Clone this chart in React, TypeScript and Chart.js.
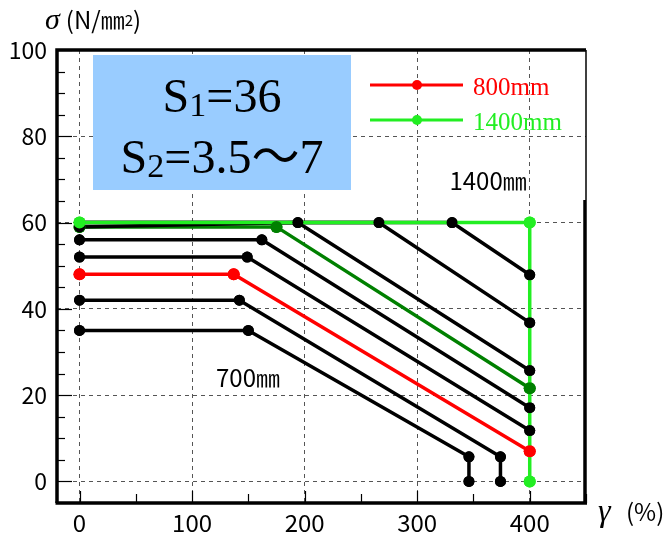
import React, { useEffect, useRef } from "react";
import { Chart, registerables } from "chart.js";
Chart.register(...registerables);

// axis ticks
const xTicks = [0, 100, 200, 300, 400];
const yTicks = [0, 20, 40, 60, 80, 100];

// series (γ %, σ N/mm2)
const g1400X = [0, 400, 400];
const g1400Y = [60, 60, 0];
const r800X = [0, 137, 400];
const r800Y = [48, 48, 7];
const dgX = [0, 175, 400];
const dgY = [59, 59, 21.6];
const k1X = [0, 331, 400];
const k1Y = [60, 60, 47.9];
const k2X = [0, 266, 400];
const k2Y = [60, 60, 36.8];
const k3X = [0, 194, 400];
const k3Y = [59, 60, 25.7];
const k4X = [0, 162, 400];
const k4Y = [56, 56, 17.1];
const k5X = [0, 149, 400];
const k5Y = [52, 52, 11.8];
const k6X = [0, 142, 374, 374];
const k6Y = [42, 42, 5.7, 0];
const k7X = [0, 150, 346, 346];
const k7Y = [35, 35, 5.7, 0];

const RED = "#ff0000";
const LGREEN = "#22ee22";
const DGREEN = "#008000";
const BLACK = "#000000";
const JP = "'Noto Sans CJK JP', 'Liberation Sans', sans-serif";
const SERIF = "'Liberation Serif', 'Times New Roman', 'Noto Sans CJK JP', serif";

function drawSub(ctx: CanvasRenderingContext2D, a: string, sub: string, b: string, cx: number, base: number) {
  ctx.font = `48px ${SERIF}`;
  const wa = ctx.measureText(a).width;
  const wb = ctx.measureText(b).width;
  ctx.font = `34px ${SERIF}`;
  const ws = ctx.measureText(sub).width;
  let x = cx - (wa + ws + wb) / 2;
  ctx.textAlign = "left";
  ctx.textBaseline = "alphabetic";
  ctx.fillStyle = "#000";
  ctx.font = `48px ${SERIF}`;
  ctx.fillText(a, x, base);
  x += wa;
  ctx.font = `34px ${SERIF}`;
  ctx.fillText(sub, x, base + 4);
  x += ws;
  ctx.font = `48px ${SERIF}`;
  ctx.fillText(b, x, base);
}

const decor = {
  id: "decor",
  beforeDatasetsDraw(chart: any) {
    const { ctx, chartArea: a } = chart;
    ctx.save();
    ctx.fillStyle = "#99ccff";
    const bx = a.left + 36, by = a.top + 5, bw = 258, bh = 135;
    ctx.fillRect(bx, by, bw, bh);
    const cx = bx + bw / 2;
    drawSub(ctx, "S", "1", "=36", cx, by + 57);
    drawSub(ctx, "S", "2", "=3.5～7", cx, by + 118);
    ctx.restore();
  },
  afterDatasetsDraw(chart: any) {
    const { ctx, chartArea: a, scales } = chart;
    const xs = scales.x, ys = scales.y;
    // redraw points on top of lines
    const n = chart.data.datasets.length;
    for (let i = n - 1; i >= 0; i--) {
      const meta = chart.getDatasetMeta(i);
      meta.data.forEach((p: any) => p.draw(ctx, a));
    }
    ctx.save();
    // inward ticks
    ctx.strokeStyle = "#000";
    ctx.lineWidth = 1.2;
    ctx.setLineDash([]);
    for (let v = 0; v <= 100; v += 5) {
      const py = Math.round(ys.getPixelForValue(v)) + 0.5;
      const len = v % 20 === 0 ? 15 : 8;
      ctx.beginPath();
      ctx.moveTo(a.left, py);
      ctx.lineTo(a.left + len, py);
      ctx.stroke();
    }
    for (let v = 0; v <= 450; v += 50) {
      const px = Math.round(xs.getPixelForValue(v)) + 0.5;
      const len = v % 100 === 0 ? 12 : 9;
      ctx.beginPath();
      ctx.moveTo(px, a.bottom);
      ctx.lineTo(px, a.bottom - len);
      ctx.stroke();
    }
    // frame
    ctx.lineWidth = 3.5;
    ctx.beginPath();
    ctx.moveTo(a.left, a.bottom);
    ctx.lineTo(a.left, a.top);
    ctx.lineTo(a.right, a.top);
    ctx.stroke();
    ctx.beginPath();
    ctx.moveTo(a.left - 1.5, a.bottom);
    ctx.lineTo(a.right + 1, a.bottom);
    ctx.stroke();
    ctx.lineWidth = 1.5;
    ctx.beginPath();
    ctx.moveTo(a.right, a.top);
    ctx.lineTo(a.right, 200);
    ctx.stroke();
    ctx.lineWidth = 3.5;
    ctx.beginPath();
    ctx.moveTo(a.right - 1, 200);
    ctx.lineTo(a.right - 1, a.bottom);
    ctx.stroke();

    // annotations
    ctx.fillStyle = "#000";
    ctx.font = `24px ${JP}`;
    ctx.textAlign = "center";
    ctx.textBaseline = "middle";
    ctx.fillText("1400㎜", xs.getPixelForValue(363), ys.getPixelForValue(69.6));
    ctx.fillText("700㎜", xs.getPixelForValue(149.7), ys.getPixelForValue(24));

    // legend
    const legend = [
      { label: "800mm", color: RED, y: 85, ty: 95 },
      { label: "1400mm", color: LGREEN, y: 120, ty: 130 },
    ];
    legend.forEach((l) => {
      ctx.strokeStyle = l.color;
      ctx.lineWidth = 3;
      ctx.beginPath();
      ctx.moveTo(370, l.y);
      ctx.lineTo(463, l.y);
      ctx.stroke();
      ctx.fillStyle = l.color;
      ctx.beginPath();
      ctx.arc(417, l.y, 5, 0, Math.PI * 2);
      ctx.fill();
      ctx.font = `25px ${SERIF}`;
      ctx.textAlign = "left";
      ctx.textBaseline = "alphabetic";
      ctx.fillText(l.label, 473, l.ty);
    });
    ctx.restore();
  },
  afterDraw(chart: any) {
    const { ctx } = chart;
    ctx.save();
    ctx.fillStyle = "#000";
    ctx.textAlign = "left";
    ctx.textBaseline = "alphabetic";
    ctx.font = `italic 30px ${SERIF}`;
    let x = 45;
    ctx.fillText("σ", x, 29);
    x += ctx.measureText("σ").width + 6;
    ctx.font = `24px ${JP}`;
    const t1 = "(N/㎜";
    ctx.fillText(t1, x, 29);
    x += ctx.measureText(t1).width;
    ctx.font = `15px ${JP}`;
    ctx.fillText("2", x, 26);
    x += ctx.measureText("2").width;
    ctx.font = `24px ${JP}`;
    ctx.fillText(")", x, 29);

    ctx.font = `italic 32px ${SERIF}`;
    ctx.fillText("γ", 598, 521);
    ctx.font = `24px ${JP}`;
    ctx.fillText("(%)", 626, 521);
    ctx.restore();
  },
};

function mk(label: string, xs: number[], ys: number[], color: string, r = 5.5) {
  return {
    label,
    data: xs.map((x, i) => ({ x, y: ys[i] })),
    borderColor: color,
    backgroundColor: color,
    pointBackgroundColor: color,
    pointBorderColor: color,
    pointBorderWidth: 0,
    pointRadius: r,
    borderWidth: 3.5,
    showLine: true,
    fill: false,
    tension: 0,
  };
}

export default function App() {
  const ref = useRef<HTMLCanvasElement>(null);
  useEffect(() => {
    const canvas = ref.current!;
    const datasets = [
      mk("1400mm", g1400X, g1400Y, LGREEN, 6),
      mk("800mm", r800X, r800Y, RED, 6),
      mk("k1", k1X, k1Y, BLACK),
      mk("k2", k2X, k2Y, BLACK),
      mk("k3", k3X, k3Y, BLACK),
      mk("k4", k4X, k4Y, BLACK),
      mk("k5", k5X, k5Y, BLACK),
      mk("k6", k6X, k6Y, BLACK),
      mk("k7", k7X, k7Y, BLACK),
      mk("dg", dgX, dgY, DGREEN, 6),
    ];
    const chart = new Chart(canvas, {
      type: "scatter",
      data: { datasets } as any,
      options: {
        responsive: false,
        animation: false,
        layout: { padding: { left: 0, right: 77, top: 50, bottom: 0 } },
        plugins: { legend: { display: false }, tooltip: { enabled: false } },
        scales: {
          x: {
            type: "linear",
            min: -20,
            max: 450,
            afterBuildTicks: (s: any) => {
              s.ticks = xTicks.map((v) => ({ value: v }));
            },
            afterFit: (s: any) => {
              s.height = 33;
            },
            grid: { color: "#555", lineWidth: 1, drawTicks: false },
            border: { display: false, dash: [4, 4] },
            ticks: { padding: 5, color: "#000", maxRotation: 0, font: { family: JP, size: 24 } },
          },
          y: {
            type: "linear",
            min: -5,
            max: 100,
            afterBuildTicks: (s: any) => {
              s.ticks = yTicks.map((v) => ({ value: v }));
            },
            afterFit: (s: any) => {
              s.width = 57;
            },
            grid: { color: "#555", lineWidth: 1, drawTicks: false },
            border: { display: false, dash: [4, 4] },
            ticks: { padding: 10, color: "#000", font: { family: JP, size: 23 } },
          },
        },
      } as any,
      plugins: [decor],
    });
    return () => chart.destroy();
  }, []);
  return (
    <div style={{ position: "absolute", left: 0, top: 0, width: 663, height: 536, background: "#fff" }}>
      <canvas ref={ref} width={663} height={536} />
    </div>
  );
}
